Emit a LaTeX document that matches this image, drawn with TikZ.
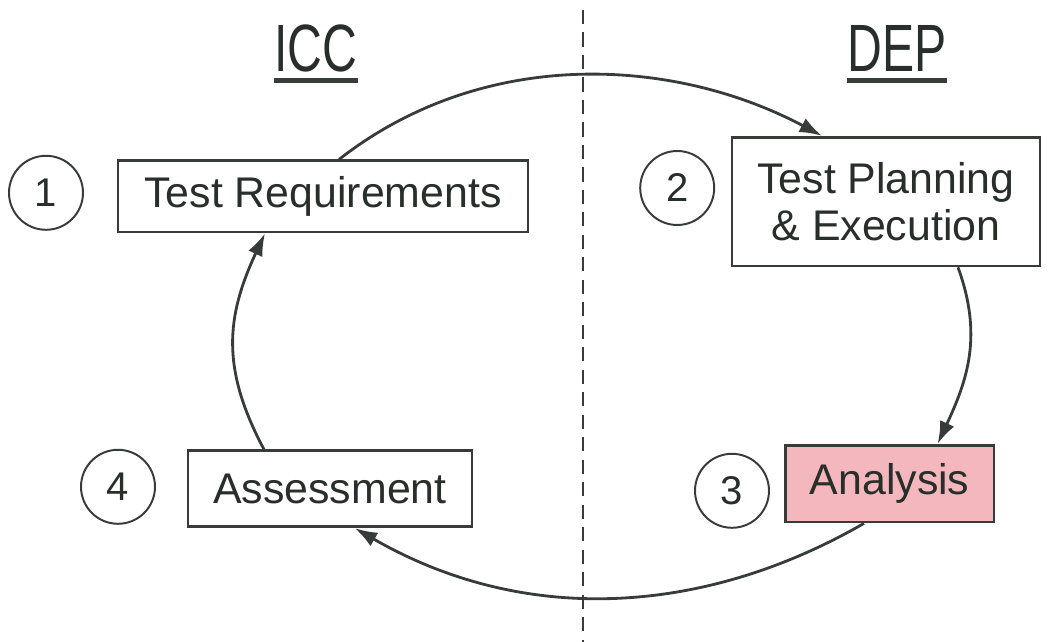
\documentclass[tikz,border=0pt]{standalone}
\usepackage{fontspec}
\setmainfont{Liberation Sans}
\newfontfamily\titlefont[FakeStretch=0.72]{Liberation Sans}
\usetikzlibrary{arrows.meta}
\definecolor{ink}{RGB}{40,46,42}
\definecolor{edge}{RGB}{55,60,57}
\definecolor{pinkfill}{RGB}{245,183,190}
\begin{document}
\begin{tikzpicture}[
  box/.style={draw=edge, line width=1.9pt, fill=white, text=ink, inner sep=0pt,
    font=\fontsize{30.5}{33.5}\selectfont, align=center},
  num/.style={draw=edge, circle, line width=1.4pt, minimum size=1.85cm, inner sep=0pt,
    text=ink, font=\fontsize{28.5}{28.5}\selectfont},
  title/.style={anchor=base, inner sep=0pt, text=ink, font=\titlefont\fontsize{47.6}{50}\selectfont},
  flow/.style={draw=edge, line width=2pt, -{Latex[length=16pt,width=11pt]}}
]
\useasboundingbox (0,0) rectangle (26.2,16.05);
% split between the two sides
\coordinate (top) at (14.575,15.8);
\coordinate (bot) at (14.575,0);
\path[draw=edge, line width=1.4pt, dash pattern=on 10pt off 6pt] (top) -- (bot);
\node[title] (icc) at (7.9,14.25) {ICC};
\node[title] (dep) at (22.43,14.25) {DEP};
\path[draw=edge, line width=3.5pt] ([yshift=-0.22cm]icc.base west) -- ([yshift=-0.22cm]icc.base east);
\path[draw=edge, line width=3.5pt] ([yshift=-0.22cm]dep.base west) -- ([yshift=-0.22cm]dep.base east);
\node[box, minimum width=10.25cm, minimum height=1.78cm] (b1) at (8.075,11.14) {Test Requirements};
\node[box, minimum width=7.7cm, minimum height=3.22cm] (b2) at (22.15,11.01) {Test Planning\\\& Execution};
\node[box, fill=pinkfill, minimum width=5.22cm, minimum height=1.92cm] (b3) at (22.24,3.96) {Analysis};
\node[box, minimum width=7.1cm, minimum height=1.9cm] (b4) at (8.25,3.83) {Assessment};
\node[num] (1) at (1.15,11.23) {1};
\node[num] (2) at (16.93,11.35) {2};
\node[num] (3) at (18.3,3.78) {3};
\node[num] (4) at (2.95,3.88) {4};
\path[flow] ([xshift=0.4cm]b1.north) .. controls +(38:4.6) and +(152:4.2) .. ([xshift=-1.6cm]b2.north);
\path[flow] ([xshift=1.8cm]b2.south) .. controls +(-70:1.8) and +(65:1.8) .. ([xshift=1.2cm]b3.north);
\path[flow] ([xshift=-0.64cm]b3.south) .. controls +(-150:4.5) and +(-30:5) .. ([xshift=0.62cm]b4.south);
\path[flow] ([xshift=-1.65cm]b4.north) .. controls +(118:2.3) and +(-115:2.3) .. ([xshift=-1.45cm]b1.south);
\end{tikzpicture}
\end{document}
